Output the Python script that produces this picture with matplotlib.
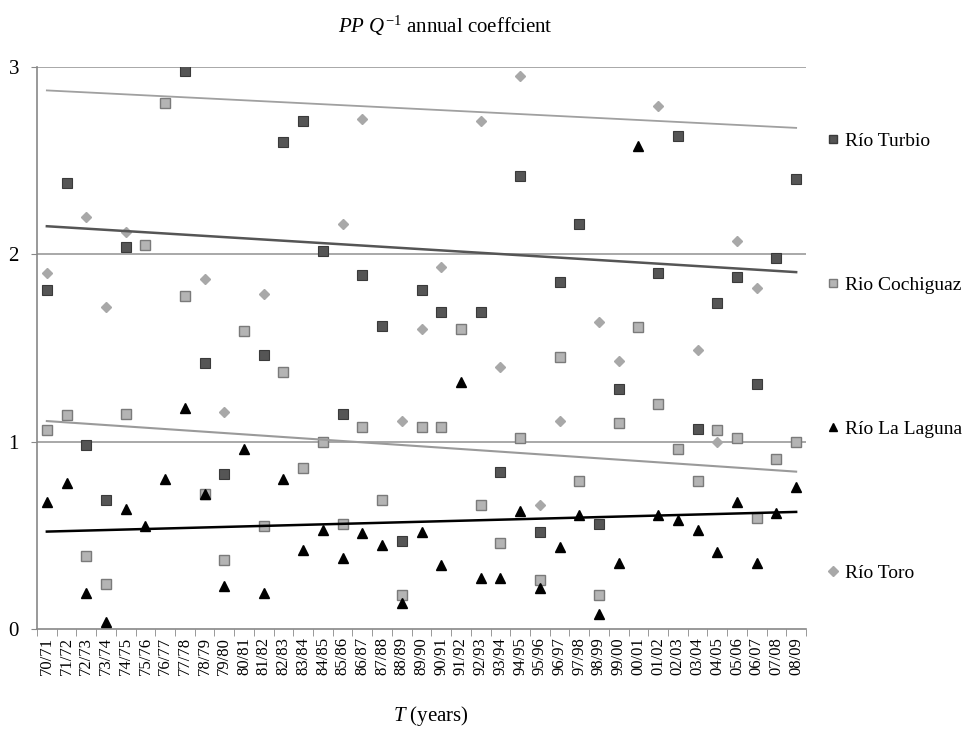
import numpy as np
import matplotlib
matplotlib.use("Agg")
import matplotlib.pyplot as plt
from matplotlib.lines import Line2D

plt.rcParams["font.family"] = ["Liberation Serif", "DejaVu Serif"]
plt.rcParams["mathtext.fontset"] = "custom"
plt.rcParams["mathtext.rm"] = "Liberation Serif"
plt.rcParams["mathtext.it"] = "Liberation Serif:italic"

nan = np.nan

years = ["70/71", "71/72", "72/73", "73/74", "74/75", "75/76", "76/77", "77/78",
         "78/79", "79/80", "80/81", "81/82", "82/83", "83/84", "84/85", "85/86",
         "86/87", "87/88", "88/89", "89/90", "90/91", "91/92", "92/93", "93/94",
         "94/95", "95/96", "96/97", "97/98", "98/99", "99/00", "00/01", "01/02",
         "02/03", "03/04", "04/05", "05/06", "06/07", "07/08", "08/09"]

# values above 3 fall outside the axis in the source -> not visible, left as nan
turbio = [1.81, 2.38, 0.98, 0.69, 2.04, nan, nan, 2.98, 1.42, 0.83,
          nan, 1.46, 2.60, 2.71, 2.02, 1.15, 1.89, 1.62, 0.47, 1.81,
          1.69, nan, 1.69, 0.84, 2.42, 0.52, 1.85, 2.16, 0.56, 1.28,
          nan, 1.90, 2.63, 1.07, 1.74, 1.88, 1.31, 1.98, 2.40]

cochiguaz = [1.06, 1.14, 0.39, 0.24, 1.15, 2.05, 2.81, 1.78, 0.72, 0.37,
             1.59, 0.55, 1.37, 0.86, 1.00, 0.56, 1.08, 0.69, 0.18, 1.08,
             1.08, 1.60, 0.66, 0.46, 1.02, 0.26, 1.45, 0.79, 0.18, 1.10,
             1.61, 1.20, 0.96, 0.79, 1.06, 1.02, 0.59, 0.91, 1.00]

laguna = [0.68, 0.78, 0.19, 0.04, 0.64, 0.55, 0.80, 1.18, 0.72, 0.23,
          0.96, 0.19, 0.80, 0.42, 0.53, 0.38, 0.51, 0.45, 0.14, 0.52,
          0.34, 1.32, 0.27, 0.27, 0.63, 0.22, 0.44, 0.61, 0.08, 0.35,
          2.58, 0.61, 0.58, 0.53, 0.41, 0.68, 0.35, 0.62, 0.76]

toro = [1.90, nan, 2.20, 1.72, 2.12, nan, nan, nan, 1.87, 1.16,
        nan, 1.79, nan, nan, nan, 2.16, 2.72, nan, 1.11, 1.60,
        1.93, nan, 2.71, 1.40, 2.95, 0.66, 1.11, nan, 1.64, 1.43,
        nan, 2.79, nan, 1.49, 1.00, 2.07, 1.82, nan, nan]

# linear trend lines: value at first and last year
trend_start = {"turbio": 2.15, "cochiguaz": 1.11, "laguna": 0.52, "toro": 2.875}
trend_end = {"turbio": 1.905, "cochiguaz": 0.84, "laguna": 0.625, "toro": 2.675}

names = {"turbio": "Río Turbio", "cochiguaz": "Rio Cochiguaz",
         "laguna": "Río La Laguna", "toro": "Río Toro"}

fig = plt.figure(figsize=(9.67, 7.29), dpi=100)
ax = fig.add_axes([37 / 967, 100 / 729, 769 / 967, 562 / 729])

x = np.arange(len(years))

ax.plot(x, turbio, "s", ms=7, color="#555555", mec="#3a3a3a", mew=0.8, zorder=3)
ax.plot(x, cochiguaz, "s", ms=7.5, color="#b4b4b4", mec="#7a7a7a", mew=1.0, zorder=3)
ax.plot(x, laguna, "^", ms=7, color="black", mec="black", zorder=4)
ax.plot(x, toro, "D", ms=5.5, color="#a8a8a8", mec="#a8a8a8", zorder=5)

trend_style = {
    "toro": dict(color="#a0a0a0", lw=1.3),
    "turbio": dict(color="#555555", lw=1.8),
    "cochiguaz": dict(color="#9a9a9a", lw=1.5),
    "laguna": dict(color="black", lw=1.8),
}
for key, st in trend_style.items():
    ax.plot([x[0], x[-1]], [trend_start[key], trend_end[key]], zorder=6, **st)

ax.set_xlim(-0.5, len(years) - 0.5)
ax.set_ylim(0, 3)
ax.set_yticks([0, 1, 2, 3])
ax.set_yticklabels(["0", "1", "2", "3"], fontsize=15)
ax.set_xticks(x)
ax.set_xticklabels(years, rotation=90, fontsize=12)
ax.set_xticks(np.arange(-0.5, len(years)), minor=True)
ax.tick_params(axis="x", which="major", length=0, pad=6)
ax.tick_params(axis="x", which="minor", length=5, color="#888888", direction="out")
ax.tick_params(axis="y", length=4, color="#888888", pad=9)

for v in [1, 2, 3]:
    ax.axhline(v, color="#999999", lw=1.2, zorder=1)

for side in ["top", "right"]:
    ax.spines[side].set_visible(False)
for side in ["left", "bottom"]:
    ax.spines[side].set_color("#888888")
    ax.spines[side].set_linewidth(1.2)

fig.text(445 / 967, 1 - 26 / 729, r"$\mathit{PP\ Q}^{\mathrm{-1}}$ annual coeffcient",
         ha="center", va="center", fontsize=15)
fig.text(431 / 967, 1 - 716 / 729, r"$\mathit{T}$ (years)", ha="center", va="center",
         fontsize=15)

handles = [
    Line2D([], [], ls="none", marker="s", ms=6, color="#555555", mec="#3a3a3a"),
    Line2D([], [], ls="none", marker="s", ms=6, color="#b4b4b4", mec="#7a7a7a"),
    Line2D([], [], ls="none", marker="^", ms=6, color="black"),
    Line2D([], [], ls="none", marker="D", ms=5, color="#a8a8a8", mec="#a8a8a8"),
]
fig.legend(handles, [names[k] for k in ["turbio", "cochiguaz", "laguna", "toro"]],
           loc="upper left", bbox_to_anchor=(825 / 967, 1 - 132 / 729),
           frameon=False, fontsize=14, labelspacing=6.5, handlelength=0.8,
           handletextpad=0.25, borderpad=0, borderaxespad=0)

fig.savefig("out.png", dpi=100)
